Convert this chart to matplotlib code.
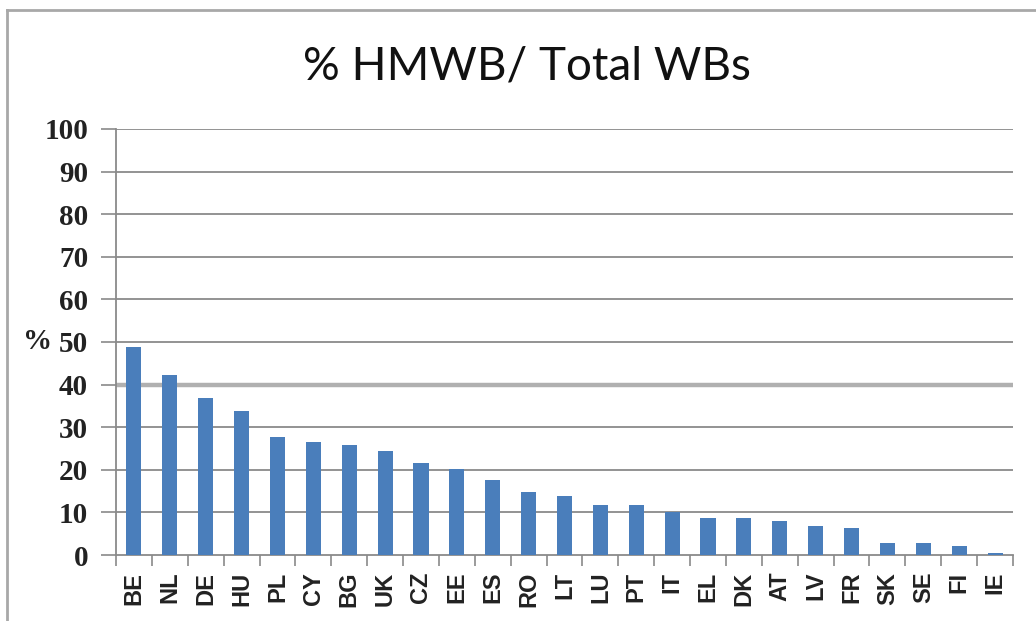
import numpy as np
import matplotlib
matplotlib.use("Agg")
import matplotlib.pyplot as plt
from matplotlib.lines import Line2D

# countries and % of heavily modified water bodies
countries = ['BE', 'NL', 'DE', 'HU', 'PL', 'CY', 'BG', 'UK', 'CZ', 'EE', 'ES', 'RO', 'LT',
             'LU', 'PT', 'IT', 'EL', 'DK', 'AT', 'LV', 'FR', 'SK', 'SE', 'FI', 'IE']
values = [48.8, 42.3, 36.8, 33.7, 27.8, 26.6, 25.8, 24.3, 21.5, 20.2, 17.6, 14.9, 13.8,
          11.8, 11.8, 10.2, 8.7, 8.7, 8.0, 6.7, 6.4, 2.9, 2.9, 2.0, 0.5]
yticks = [0, 10, 20, 30, 40, 50, 60, 70, 80, 90, 100]

W, H = 1036, 621
fig = plt.figure(figsize=(W / 100, H / 100), dpi=100)
ax = fig.add_axes([116 / W, 1 - 555 / H, (1013 - 116) / W, (555 - 129) / H])

x = np.arange(len(countries))
ax.bar(x, values, width=0.42, color='#4a7ebb', zorder=3)

ax.set_xlim(-0.5, len(countries) - 0.5)
ax.set_ylim(0, 100)

# gridlines (the 40 line is drawn heavier, as in the picture)
for t in yticks[1:]:
    if t == 40:
        ax.axhline(t, color='#b0b0b0', lw=3.2, zorder=1)
    else:
        ax.axhline(t, color='#8a8a8a', lw=1.3, zorder=1)

ax.set_yticks(yticks)
ax.set_yticklabels([str(t) for t in yticks], fontfamily='Liberation Serif',
                   fontweight='bold', fontsize=21, color='#222222')
ax.tick_params(axis='y', length=11, width=1.2, color='#8a8a8a', pad=9)

ax.set_xticks(x)
ax.set_xticklabels(countries, rotation=90, fontfamily='Liberation Sans',
                   fontweight='bold', fontsize=17, color='#222222')
ax.tick_params(axis='x', which='major', length=0, pad=12)
ax.set_xticks(np.arange(len(countries) + 1) - 0.5, minor=True)
ax.tick_params(axis='x', which='minor', length=8, width=1.2, color='#8a8a8a')

for s in ['top', 'right']:
    ax.spines[s].set_visible(False)
for s in ['left', 'bottom']:
    ax.spines[s].set_color('#8a8a8a')
    ax.spines[s].set_linewidth(1.3)

ax.set_ylabel('%', rotation=0, fontfamily='Liberation Serif', fontweight='bold',
              fontsize=21, color='#222222', va='center', ha='center')
ax.yaxis.set_label_coords((38 - 116) / (1013 - 116), 0.5)

fig.text(527 / W, 1 - 66 / H, '% HMWB/ Total WBs', ha='center', va='center',
         fontfamily='Lato', fontsize=33, color='#111111')

# outer chart frame (left and top edges only are visible)
fig.add_artist(Line2D([7 / W, 7 / W], [0, 1 - 10 / H], color='#a8a8a8', lw=2))
fig.add_artist(Line2D([7 / W, 1], [1 - 10 / H, 1 - 10 / H], color='#a8a8a8', lw=2))

fig.savefig('out.png', dpi=100)
